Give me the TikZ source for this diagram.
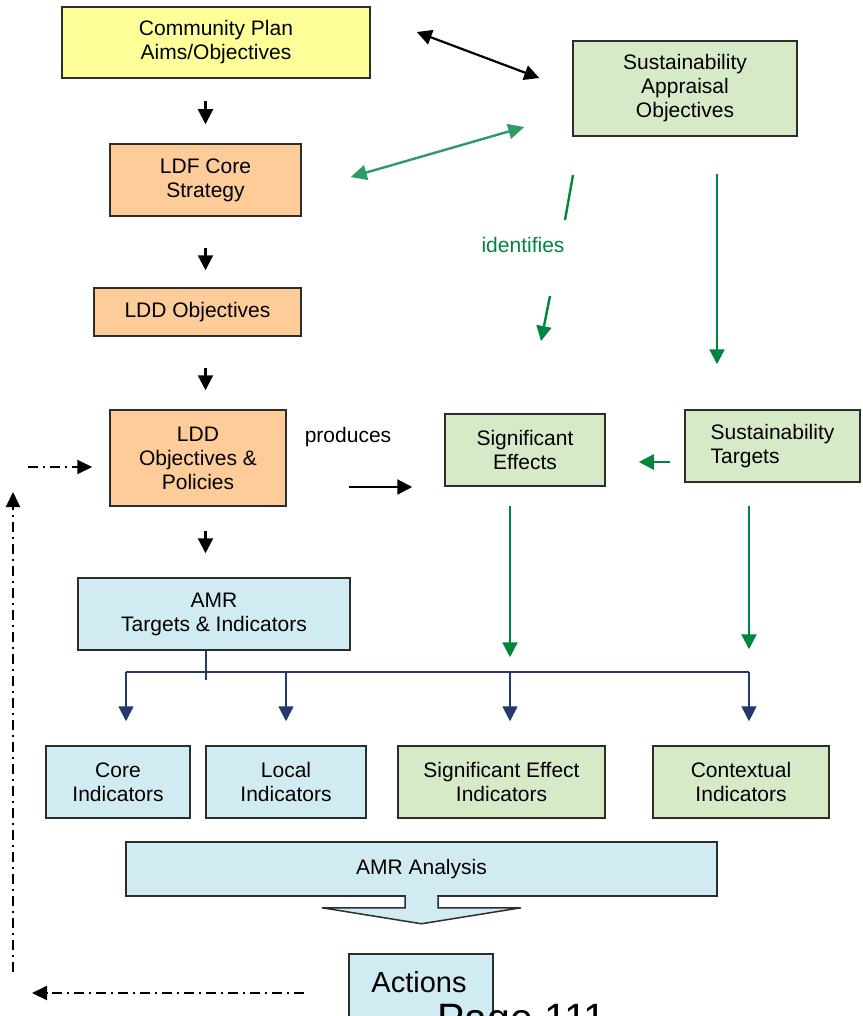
\documentclass[tikz,border=0pt]{standalone}
\usepackage{fontspec}
\setmainfont{Liberation Sans}
\usetikzlibrary{arrows.meta,calc}
\definecolor{cyel}{RGB}{255,255,153}
\definecolor{cgrn}{RGB}{214,234,200}
\definecolor{corg}{RGB}{253,204,153}
\definecolor{cblu}{RGB}{208,236,242}
\definecolor{gA}{RGB}{46,155,100}
\definecolor{gB}{RGB}{0,133,62}
\definecolor{navy}{RGB}{35,58,110}
\definecolor{bord}{RGB}{45,45,45}
\begin{document}
\begin{tikzpicture}[x=1pt,y=-1pt,
  box/.style={draw=bord,line width=1.5pt,inner sep=0pt,align=center,font=\fontsize{21}{24}\selectfont},
  tip/.style={Triangle[length=15pt,width=15pt]},
  blk/.style={line width=2.2pt,-{Triangle[length=15pt,width=15pt]}},
  blkd/.style={line width=2.2pt,{Triangle[length=15pt,width=15pt]}-{Triangle[length=15pt,width=15pt]}},
  grA/.style={gA,line width=2.4pt,{Triangle[length=16pt,width=15pt]}-{Triangle[length=16pt,width=15pt]}},
  grB/.style={gB,line width=2.4pt,-{Triangle[length=15pt,width=15pt]}},
  grBl/.style={gB,line width=2.4pt},
  nv/.style={navy,line width=1.8pt},
  nva/.style={navy,line width=1.8pt,-{Triangle[length=15pt,width=15pt]}},
  dd/.style={line width=2pt,dash pattern=on 10pt off 5pt on 2pt off 5pt,-{Triangle[length=15pt,width=14pt]}},
  lbl/.style={font=\fontsize{21}{24}\selectfont,inner sep=0pt}
]
\useasboundingbox (0,0) rectangle (862,1016);
\fill[white] (0,0) rectangle (862,1016);

\node[box,fill=cyel,minimum width=308,minimum height=71] (cp) at (216,42.5) {Community Plan\\Aims/Objectives};
\node[box,fill=cgrn,minimum width=224,minimum height=95] (sao) at (685,88.5) {Sustainability\\Appraisal\\Objectives};
\node[box,fill=corg,minimum width=191,minimum height=72] (ldf) at (205.5,180) {LDF Core\\Strategy};
\node[box,fill=corg,minimum width=207,minimum height=48] (lddo) at (197.5,312) {LDD Objectives};
\node[box,fill=corg,minimum width=176,minimum height=96] (lddp) at (198,458) {LDD\\Objectives \&\\Policies};
\node[box,fill=cgrn,minimum width=160,minimum height=72] (se) at (525,450) {Significant\\Effects};
\node[box,fill=cgrn,minimum width=175,minimum height=72,align=left] (st) at (772.5,446) {Sustainability\\Targets\hspace*{50pt}};
\node[box,fill=cblu,minimum width=272,minimum height=72] (amr) at (214,614) {AMR\\Targets \& Indicators};
\node[box,fill=cblu,minimum width=144,minimum height=72] (core) at (118,782) {Core\\Indicators};
\node[box,fill=cblu,minimum width=160,minimum height=72] (local) at (286,782) {Local\\Indicators};
\node[box,fill=cgrn,minimum width=207,minimum height=72] (sei) at (501.5,782) {Significant Effect\\Indicators};
\node[box,fill=cgrn,minimum width=176,minimum height=72] (ctx) at (741,782) {Contextual\\Indicators};
\node[box,fill=cblu,minimum width=591,minimum height=54] (ana) at (421.5,869) {AMR Analysis};
% block arrow below AMR Analysis
\draw[draw=bord,line width=1.5pt,fill=cblu] ($(ana.south)+(-16.5,0)$) -- ($(ana.south)+(-16.5,11)$) -- ($(ana.south)+(-99.5,11)$) -- ($(ana.south)+(0,27)$) -- ($(ana.south)+(99.5,11)$) -- ($(ana.south)+(16.5,11)$) -- ($(ana.south)+(16.5,0)$);
\fill[cblu] ($(ana.south)+(-15.7,-3)$) rectangle ($(ana.south)+(15.7,1.5)$);
\node[box,fill=cblu,minimum width=144,minimum height=76] (act) at (421,992) {};
\node[inner sep=0pt,font=\fontsize{29}{34}\selectfont,anchor=base] (acttxt) at (419,992) {Actions};
\node[inner sep=0pt,font=\fontsize{41}{48}\selectfont,anchor=base west] (page) at (437,1032) {Page 111};

% black arrows
\draw[blk,shorten <=22pt,shorten >=19pt] (cp.south -| ldf.north) -- (ldf.north);
\draw[blk,shorten <=31pt,shorten >=17pt] (ldf.south) -- (ldf.south |- lddo.north);
\draw[blk,shorten <=31pt,shorten >=19pt] (lddo.south -| ldf.south) -- (lddp.north -| ldf.south);
\draw[blk,shorten <=24pt,shorten >=24pt] (lddp.south -| ldf.south) -- (amr.north -| ldf.south);
\draw[blkd] ($(cp.east)+(46,-10.5)$) -- ($(sao.west)+(-33,-10.5)$);
\draw[grA] ($(ldf.east)+(49,-3)$) -- ($(sao.west)+(-48,38.5)$);

% identifies
\node[lbl,text=gB] (id) at (523,245) {identifies};
\draw[grBl] ($(id)+(50,-70)$) -- ($(id)+(42,-25)$);
\draw[grB] ($(id)+(27,51)$) -- ($(id)+(18,96)$);
\draw[grB] ($(sao.south)+(32,37)$) -- ($(st.north)+(-55.5,-45)$);

% produces
\node[lbl] (prod) at (348,437) {produces};
\draw[blk] ($(lddp.east)+(62,29)$) -- ($(se.west)+(-32,37)$);
\draw[grB] ($(st.west)+(-14,16)$) -- ($(se.east)+(33,12)$);
\draw[grB] ($(se.south)+(-15,19)$) -- ($(sei.north)+(8.5,-88)$);
\draw[grB] ($(st.south)+(-23.5,23)$) -- ($(ctx.north)+(8,-96)$);

% navy bus
\coordinate (b1) at ($(core.north)+(8,-73)$);
\coordinate (b2) at ($(local.north)+(0,-73)$);
\coordinate (b3) at ($(sei.north)+(8.5,-73)$);
\coordinate (b4) at ($(ctx.north)+(8,-73)$);
\draw[nv] ($(amr.south)+(-8,0)$) -- ($(amr.south)+(-8,29)$);
\draw[nv] (b1) -- (b4);
\draw[nva] (b1) -- ($(core.north)+(8,-24)$);
\draw[nva] (b2) -- ($(local.north)+(0,-24)$);
\draw[nva] (b3) -- ($(sei.north)+(8.5,-24)$);
\draw[nva] (b4) -- ($(ctx.north)+(8,-24)$);

% dash-dot feedback
\coordinate (fb) at (13,972);
\draw[dd] (fb) -- (13,492);
\coordinate (fh) at (28,467);
\draw[dd] (fh) -- ($(lddp.west)+(-17,9)$);
\draw[dd] ($(act.west)+(-44,1)$) -- (32,993);
\end{tikzpicture}
\end{document}
